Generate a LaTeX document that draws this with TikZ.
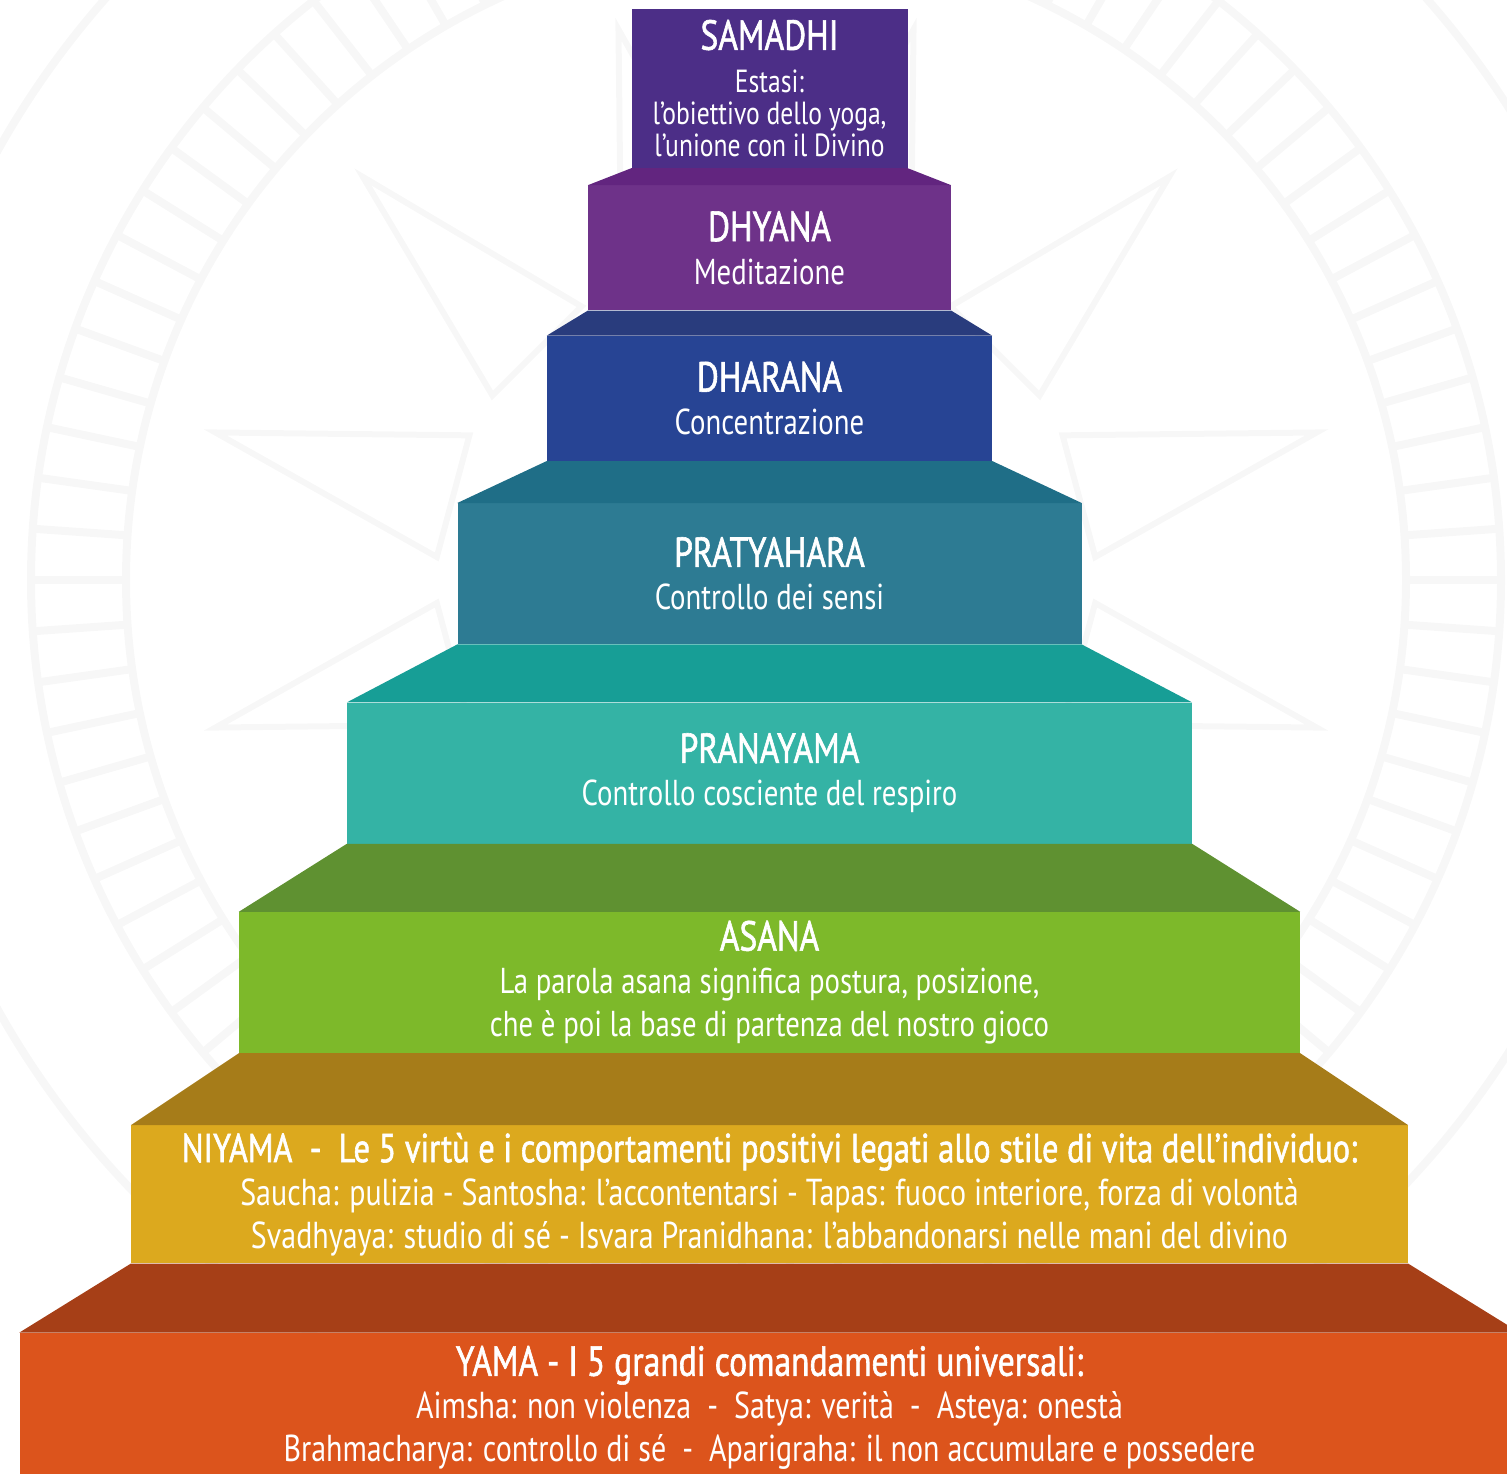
\documentclass[tikz,border=0pt]{standalone}
\usepackage{fontspec}
\setmainfont{PT Sans}[FakeStretch=0.8]
\newfontfamily\ttlfam{PT Sans}[FakeStretch=0.8, FakeBold=1.4]
\usetikzlibrary{positioning}
\definecolor{samadhiF}{HTML}{4C2E87}
\definecolor{dhyanaT}{HTML}{62257F}
\definecolor{dhyanaF}{HTML}{6E3289}
\definecolor{dharanaT}{HTML}{293C7D}
\definecolor{dharanaF}{HTML}{274494}
\definecolor{pratyaT}{HTML}{1F6E87}
\definecolor{pratyaF}{HTML}{2D7B93}
\definecolor{pranaT}{HTML}{179E96}
\definecolor{pranaF}{HTML}{34B3A5}
\definecolor{asanaT}{HTML}{5F9131}
\definecolor{asanaF}{HTML}{7DB92A}
\definecolor{niyamaT}{HTML}{A67C19}
\definecolor{niyamaF}{HTML}{DCA91E}
\definecolor{yamaT}{HTML}{A63F17}
\definecolor{yamaF}{HTML}{DC541C}
\newcommand{\ttl}{\ttlfam\fontsize{42}{43}\selectfont}
\newcommand{\txt}{\fontsize{36}{43}\selectfont}
\newcommand{\toptxt}{\fontsize{32}{32}\selectfont}
\newcommand{\widetxt}{\fontsize{37.5}{43}\selectfont}

\begin{document}
\begin{tikzpicture}[x=1pt, y=-1pt, every node/.style={font=\txt},
    face/.style={inner sep=0pt, text=white, align=center},
    mandala/.style={draw=black!3, line width=8pt}]
  \useasboundingbox (0,0) rectangle (1507,1473);
  \clip (0,0) rectangle (1507,1473);
  % faint mandala behind the steps
  \begin{scope}[shift={(766,580)}]
    \draw[mandala] (0,0) circle[radius=640] (0,0) circle[radius=735];
    \foreach \a in {0,4,...,356}
      \draw[mandala] (\a:640) -- (\a:735);
    \draw[mandala] (0,0) circle[radius=880];
    \foreach \a in {15,45,...,345}
      \draw[mandala, line width=6pt] (\a-11:330) -- (\a:570) -- (\a+11:330) -- cycle;
  \end{scope}

  % front faces of the steps
  \node[face,font=\toptxt,fill=samadhiF,minimum width=276,minimum height=159] (samadhi) at (769.5,88.5)
    {{\ttl SAMADHI}\\[11pt] Estasi:\\ l’obiettivo dello yoga,\\ l’unione con il Divino};
  \node[face,fill=dhyanaF,minimum width=363,minimum height=125,below=17pt of samadhi] (dhyana)
    {{\ttl DHYANA}\\ Meditazione};
  \node[face,fill=dharanaF,minimum width=445,minimum height=125,below=25pt of dhyana] (dharana)
    {{\ttl DHARANA}\\ Concentrazione};
  \node[face,fill=pratyaF,minimum width=624,minimum height=141,below=42pt of dharana] (pratyahara)
    {{\ttl PRATYAHARA}\\ Controllo dei sensi};
  \node[face,fill=pranaF,minimum width=845,minimum height=141,below=58pt of pratyahara] (pranayama)
    {{\ttl PRANAYAMA}\\ Controllo cosciente del respiro};
  \node[face,fill=asanaF,minimum width=1061,minimum height=141,below=68pt of pranayama] (asana)
    {{\ttl ASANA}\\ La parola asana significa postura, posizione,\\ che è poi la base di partenza del nostro gioco};
  \node[face,fill=niyamaF,minimum width=1277,minimum height=138,below=72pt of asana] (niyama)
    {{\ttl\fontsize{40.5}{43}\selectfont NIYAMA \ - \ Le 5 virtù e i comportamenti positivi legati allo stile di vita dell’individuo:}\\
     {\widetxt Saucha: pulizia - Santosha: l’accontentarsi - Tapas: fuoco interiore, forza di volontà}\\
     {\widetxt Svadhyaya: studio di sé - Isvara Pranidhana: l’abbandonarsi nelle mani del divino}};
  \node[face,fill=yamaF,minimum width=1500,minimum height=150,below=69pt of niyama] (yama)
    {{\ttl YAMA - I 5 grandi comandamenti universali:}\\
     {\widetxt Aimsha: non violenza \ - \ Satya: verità \ - \ Asteya: onestà}\\
     {\widetxt Brahmacharya: controllo di sé \ - \ Aparigraha: il non accumulare e possedere}};

  % top faces of the steps
  \fill[dhyanaT] (samadhi.south west) -- (samadhi.south east) -- (dhyana.north east) -- (dhyana.north west) -- cycle;
  \fill[dharanaT] (dhyana.south west) -- (dhyana.south east) -- (dharana.north east) -- (dharana.north west) -- cycle;
  \fill[pratyaT] (dharana.south west) -- (dharana.south east) -- (pratyahara.north east) -- (pratyahara.north west) -- cycle;
  \fill[pranaT] (pratyahara.south west) -- (pratyahara.south east) -- (pranayama.north east) -- (pranayama.north west) -- cycle;
  \fill[asanaT] (pranayama.south west) -- (pranayama.south east) -- (asana.north east) -- (asana.north west) -- cycle;
  \fill[niyamaT] (asana.south west) -- (asana.south east) -- (niyama.north east) -- (niyama.north west) -- cycle;
  \fill[yamaT] (niyama.south west) -- (niyama.south east) -- (yama.north east) -- (yama.north west) -- cycle;
\end{tikzpicture}
\end{document}
